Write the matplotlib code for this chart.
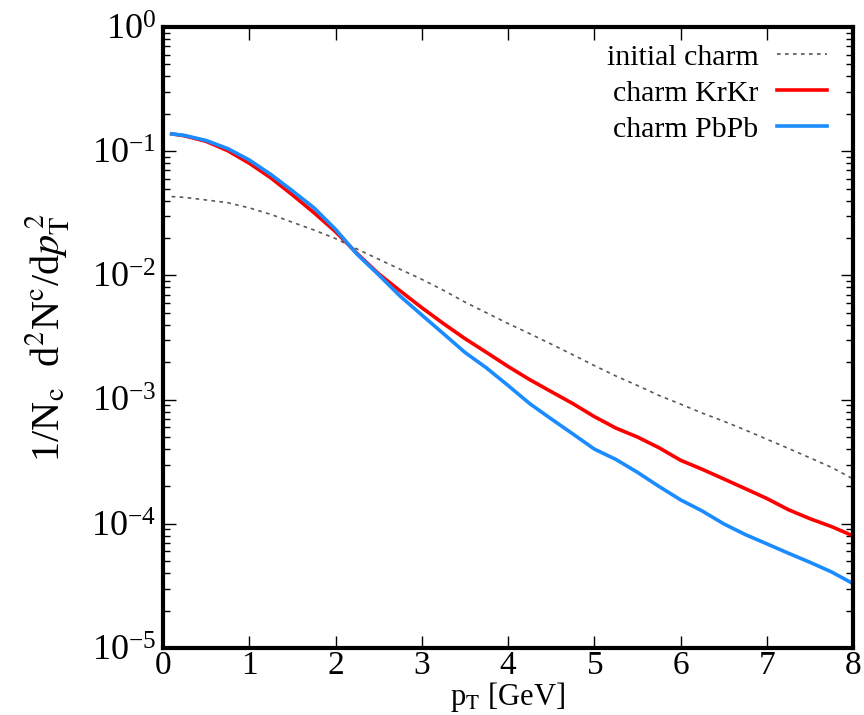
import numpy as np
import matplotlib
matplotlib.use("Agg")
import matplotlib.pyplot as plt
from matplotlib.ticker import LogLocator, NullFormatter, MultipleLocator, FuncFormatter

# transverse momentum grid [GeV]
PT = [0.1, 0.25, 0.5, 0.75, 1.0, 1.25, 1.5, 1.75, 2.0, 2.25, 2.5, 2.75,
      3.0, 3.25, 3.5, 3.75, 4.0, 4.25, 4.5, 4.75, 5.0, 5.25, 5.5, 5.75,
      6.0, 6.25, 6.5, 6.75, 7.0, 7.25, 7.5, 7.75, 8.0]

INITIAL = [0.0431, 0.0425, 0.0405, 0.0385, 0.0350, 0.0310, 0.0268, 0.0232,
           0.0198, 0.0163, 0.0135, 0.0112, 0.0093, 0.0076, 0.0061, 0.0050,
           0.0041, 0.0034, 0.0028, 0.0023, 0.00188, 0.00155, 0.0013, 0.00108,
           9.2e-4, 7.8e-4, 6.7e-4, 5.7e-4, 4.8e-4, 4.05e-4, 3.4e-4, 2.85e-4, 2.3e-4]

KRKR = [0.138, 0.133, 0.120, 0.101, 0.080, 0.061, 0.0445, 0.032,
        0.0225, 0.0150, 0.0103, 0.0075, 0.0055, 0.0041, 0.0031, 0.0024,
        0.00185, 0.00145, 0.00116, 9.3e-4, 7.3e-4, 5.9e-4, 5.0e-4, 4.1e-4,
        3.25e-4, 2.75e-4, 2.3e-4, 1.92e-4, 1.6e-4, 1.3e-4, 1.1e-4, 9.5e-5, 8.0e-5]

PBPB = [0.138, 0.134, 0.122, 0.105, 0.085, 0.065, 0.048, 0.035,
        0.0235, 0.0148, 0.0101, 0.0068, 0.0048, 0.0034, 0.0024, 0.0018,
        0.0013, 9.3e-4, 7.0e-4, 5.3e-4, 4.0e-4, 3.3e-4, 2.6e-4, 2.0e-4,
        1.56e-4, 1.27e-4, 1.0e-4, 8.2e-5, 6.9e-5, 5.8e-5, 4.9e-5, 4.1e-5, 3.3e-5]

LABELS = ["initial charm", "charm KrKr", "charm PbPb"]

plt.rcParams["font.family"] = ["Liberation Serif", "DejaVu Serif"]
plt.rcParams["mathtext.fontset"] = "stix"


def main():
    fig = plt.figure(figsize=(8.64, 7.15), dpi=100)
    ax = fig.add_axes([0.1887, 0.0937, 0.7986, 0.8685])

    ax.plot(PT, INITIAL, color="0.35", lw=1.2, ls=(0, (2.2, 2.6)), label=LABELS[0])
    ax.plot(PT, KRKR, color="#ff0000", lw=2.6, label=LABELS[1])
    ax.plot(PT, PBPB, color="#1a8cff", lw=2.6, label=LABELS[2])

    ax.set_yscale("log")
    ax.set_xlim(0, 8)
    ax.set_ylim(1e-5, 1)
    ax.xaxis.set_major_locator(MultipleLocator(1))
    # mathtext digits -> tight bounding boxes under the axis
    ax.xaxis.set_major_formatter(FuncFormatter(lambda v, p: r"$\mathdefault{%d}$" % round(v)))
    ax.yaxis.set_major_locator(LogLocator(base=10, numticks=10))
    ax.yaxis.set_minor_locator(LogLocator(base=10, subs=np.arange(2, 10), numticks=10))
    ax.yaxis.set_minor_formatter(NullFormatter())

    ax.tick_params(which="both", direction="in", top=True, right=True, width=1.0)
    ax.tick_params(which="major", length=9)
    ax.tick_params(which="minor", length=5)
    ax.tick_params(axis="x", which="minor", top=False, bottom=False)
    ax.tick_params(axis="x", labelsize=24, pad=2)
    ax.tick_params(axis="y", labelsize=26, pad=5)
    for s in ax.spines.values():
        s.set_linewidth(3)

    ax.set_xlabel(r"p$_\mathrm{T}$ [GeV]", fontsize=22)
    ax.xaxis.set_label_coords(0.5, -0.052)
    ax.set_ylabel(r"1/N$_\mathrm{c}$  d$^2$N$^\mathrm{c}$/d$p_\mathrm{T}^{\,2}$",
                  fontsize=29, labelpad=14)

    ax.legend(loc="upper right", bbox_to_anchor=(0.98, 0.992), frameon=False,
              markerfirst=False, fontsize=21.5, handlelength=1.7,
              handletextpad=0.6, labelspacing=0.3, borderaxespad=0.0,
              borderpad=0.4)

    fig.savefig("out.png", dpi=100)


if __name__ == "__main__":
    main()
